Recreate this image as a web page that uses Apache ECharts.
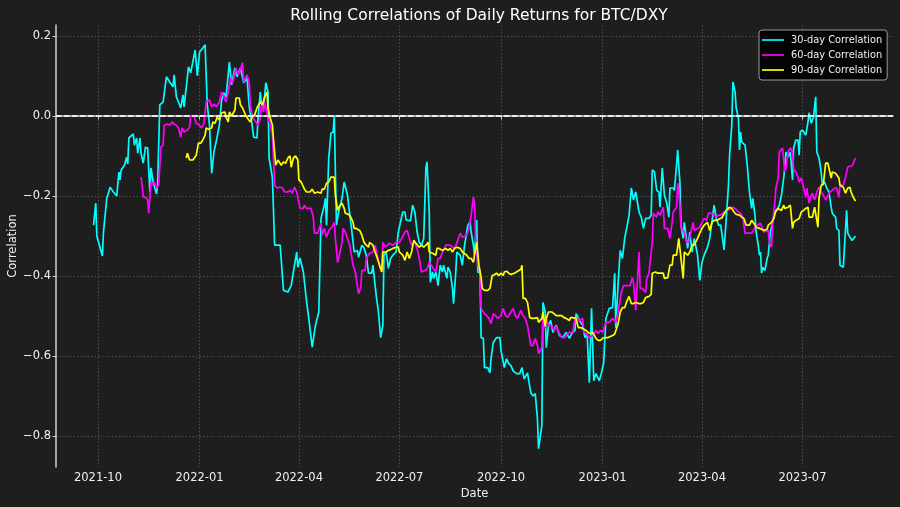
<!DOCTYPE html>
<html><head><meta charset="utf-8">
<script src="https://cdn.jsdelivr.net/npm/echarts@6/dist/echarts.min.js"></script>
<style>html,body{margin:0;padding:0;background:#1e1e1e}#c{width:900px;height:507px}</style>
</head><body><div id="c"></div><script>
// ---- DATA ----
const titleText = 'Rolling Correlations of Daily Returns for BTC/DXY';
const seriesNames = ['30-day Correlation', '60-day Correlation', '90-day Correlation'];
const xTickLabels = ['2021-10','2022-01','2022-04','2022-07','2022-10','2023-01','2023-04','2023-07'];
const yTickValues = [-0.8, -0.6, -0.4, -0.2, 0.0, 0.2];

const dates30 = ['2021-09-27','2021-09-29','2021-09-30','2021-10-05','2021-10-06','2021-10-09','2021-10-12','2021-10-15','2021-10-18','2021-10-20','2021-10-21','2021-10-22','2021-10-25','2021-10-27','2021-10-28','2021-10-29','2021-11-02','2021-11-03','2021-11-05','2021-11-06','2021-11-08','2021-11-09','2021-11-11','2021-11-13','2021-11-15','2021-11-17','2021-11-18','2021-11-20','2021-11-23','2021-11-24','2021-11-26','2021-11-29','2021-12-02','2021-12-05','2021-12-08','2021-12-09','2021-12-11','2021-12-15','2021-12-17','2021-12-18','2021-12-21','2021-12-22','2021-12-24','2021-12-28','2021-12-30','2022-01-01','2022-01-04','2022-01-06','2022-01-08','2022-01-10','2022-01-12','2022-01-14','2022-01-16','2022-01-19','2022-01-21','2022-01-23','2022-01-25','2022-01-28','2022-01-30','2022-02-02','2022-02-04','2022-02-07','2022-02-10','2022-02-13','2022-02-15','2022-02-17','2022-02-19','2022-02-22','2022-02-23','2022-02-25','2022-02-26','2022-02-28','2022-03-02','2022-03-04','2022-03-05','2022-03-08','2022-03-10','2022-03-15','2022-03-18','2022-03-22','2022-03-25','2022-03-28','2022-03-30','2022-03-31','2022-04-02','2022-04-05','2022-04-06','2022-04-08','2022-04-10','2022-04-13','2022-04-14','2022-04-16','2022-04-19','2022-04-21','2022-04-24','2022-04-25','2022-04-26','2022-04-28','2022-04-30','2022-05-02','2022-05-03','2022-05-05','2022-05-07','2022-05-10','2022-05-12','2022-05-15','2022-05-16','2022-05-19','2022-05-21','2022-05-24','2022-05-25','2022-05-28','2022-05-30','2022-06-01','2022-06-03','2022-06-06','2022-06-07','2022-06-10','2022-06-12','2022-06-14','2022-06-16','2022-06-17','2022-06-19','2022-06-21','2022-06-23','2022-06-25','2022-06-28','2022-06-30','2022-07-01','2022-07-04','2022-07-06','2022-07-07','2022-07-11','2022-07-13','2022-07-15','2022-07-17','2022-07-19','2022-07-21','2022-07-23','2022-07-25','2022-07-26','2022-07-28','2022-07-29','2022-07-31','2022-08-01','2022-08-03','2022-08-05','2022-08-07','2022-08-09','2022-08-10','2022-08-13','2022-08-14','2022-08-16','2022-08-18','2022-08-19','2022-08-21','2022-08-22','2022-08-25','2022-08-27','2022-08-29','2022-09-01','2022-09-03','2022-09-04','2022-09-06','2022-09-07','2022-09-09','2022-09-10','2022-09-12','2022-09-13','2022-09-15','2022-09-16','2022-09-19','2022-09-21','2022-09-22','2022-09-24','2022-09-27','2022-09-30','2022-10-01','2022-10-04','2022-10-06','2022-10-08','2022-10-10','2022-10-12','2022-10-15','2022-10-18','2022-10-20','2022-10-22','2022-10-25','2022-10-28','2022-10-30','2022-11-01','2022-11-03','2022-11-04','2022-11-07','2022-11-08','2022-11-10','2022-11-11','2022-11-13','2022-11-15','2022-11-17','2022-11-20','2022-11-23','2022-11-26','2022-11-29','2022-12-02','2022-12-04','2022-12-07','2022-12-08','2022-12-11','2022-12-14','2022-12-16','2022-12-18','2022-12-20','2022-12-22','2022-12-24','2022-12-26','2022-12-29','2022-12-31','2023-01-02','2023-01-04','2023-01-07','2023-01-10','2023-01-12','2023-01-13','2023-01-15','2023-01-17','2023-01-19','2023-01-21','2023-01-23','2023-01-25','2023-01-27','2023-01-29','2023-01-31','2023-02-03','2023-02-05','2023-02-07','2023-02-09','2023-02-12','2023-02-14','2023-02-15','2023-02-17','2023-02-19','2023-02-21','2023-02-22','2023-02-24','2023-02-26','2023-02-28','2023-03-02','2023-03-03','2023-03-06','2023-03-07','2023-03-09','2023-03-10','2023-03-12','2023-03-13','2023-03-15','2023-03-16','2023-03-19','2023-03-21','2023-03-23','2023-03-25','2023-03-28','2023-03-30','2023-04-01','2023-04-03','2023-04-06','2023-04-08','2023-04-10','2023-04-12','2023-04-14','2023-04-16','2023-04-18','2023-04-21','2023-04-23','2023-04-25','2023-04-26','2023-04-28','2023-04-29','2023-05-01','2023-05-02','2023-05-04','2023-05-05','2023-05-06','2023-05-07','2023-05-10','2023-05-12','2023-05-14','2023-05-16','2023-05-17','2023-05-19','2023-05-20','2023-05-22','2023-05-23','2023-05-24','2023-05-25','2023-05-26','2023-05-28','2023-05-30','2023-05-31','2023-06-02','2023-06-04','2023-06-06','2023-06-08','2023-06-10','2023-06-12','2023-06-14','2023-06-15','2023-06-16','2023-06-18','2023-06-20','2023-06-22','2023-06-23','2023-06-25','2023-06-27','2023-06-28','2023-06-29','2023-07-01','2023-07-04','2023-07-06','2023-07-07','2023-07-09','2023-07-11','2023-07-13','2023-07-14','2023-07-16','2023-07-18','2023-07-19','2023-07-21','2023-07-23','2023-07-25','2023-07-27','2023-07-28','2023-07-31','2023-08-01','2023-08-03','2023-08-04','2023-08-07','2023-08-08','2023-08-10','2023-08-11','2023-08-13','2023-08-15','2023-08-18'];
const corr30 = [-0.273,-0.218,-0.30,-0.35,-0.29,-0.206,-0.178,-0.19,-0.20,-0.14,-0.16,-0.135,-0.123,-0.103,-0.12,-0.055,-0.045,-0.073,-0.055,-0.093,-0.055,-0.093,-0.118,-0.078,-0.08,-0.19,-0.13,-0.165,-0.195,-0.173,0.028,0.035,0.098,0.085,0.073,0.103,0.048,0.02,0.053,0.023,0.098,0.123,0.108,0.165,0.10,0.16,0.17,0.178,0.028,-0.023,-0.143,-0.09,-0.065,-0.023,0.04,0.058,0.048,0.135,0.078,0.12,0.098,0.12,0.083,0.095,0.023,-0.01,-0.053,-0.055,-0.005,0.06,0.033,0.02,0.083,0.06,-0.105,-0.155,-0.323,-0.323,-0.436,-0.44,-0.424,-0.373,-0.34,-0.378,-0.355,-0.39,-0.415,-0.466,-0.507,-0.578,-0.58,-0.523,-0.49,-0.256,-0.223,-0.206,-0.273,-0.105,-0.043,-0.04,0.0,-0.273,-0.24,-0.206,-0.165,-0.198,-0.223,-0.29,-0.34,-0.336,-0.353,-0.323,-0.33,-0.348,-0.393,-0.393,-0.373,-0.449,-0.49,-0.554,-0.523,-0.348,-0.34,-0.381,-0.356,-0.348,-0.34,-0.29,-0.293,-0.24,-0.24,-0.26,-0.262,-0.223,-0.24,-0.29,-0.316,-0.323,-0.306,-0.13,-0.115,-0.24,-0.416,-0.39,-0.406,-0.39,-0.424,-0.373,-0.39,-0.373,-0.406,-0.378,-0.39,-0.43,-0.469,-0.393,-0.34,-0.348,-0.373,-0.323,-0.273,-0.265,-0.29,-0.323,-0.348,-0.26,-0.39,-0.393,-0.554,-0.556,-0.629,-0.629,-0.642,-0.607,-0.566,-0.554,-0.554,-0.586,-0.629,-0.607,-0.619,-0.624,-0.637,-0.644,-0.644,-0.629,-0.657,-0.642,-0.692,-0.70,-0.694,-0.757,-0.832,-0.774,-0.466,-0.49,-0.579,-0.523,-0.511,-0.541,-0.523,-0.549,-0.554,-0.541,-0.556,-0.544,-0.536,-0.494,-0.511,-0.523,-0.554,-0.544,-0.667,-0.481,-0.662,-0.644,-0.662,-0.642,-0.617,-0.506,-0.481,-0.479,-0.393,-0.53,-0.42,-0.336,-0.356,-0.306,-0.278,-0.248,-0.18,-0.21,-0.19,-0.24,-0.253,-0.281,-0.256,-0.256,-0.248,-0.135,-0.14,-0.186,-0.19,-0.228,-0.13,-0.198,-0.216,-0.253,-0.18,-0.18,-0.186,-0.123,-0.085,-0.165,-0.273,-0.306,-0.266,-0.331,-0.29,-0.34,-0.306,-0.348,-0.411,-0.366,-0.348,-0.328,-0.306,-0.266,-0.223,-0.256,-0.273,-0.273,-0.335,-0.256,-0.173,-0.098,-0.023,0.085,0.06,0.02,-0.005,-0.085,-0.04,-0.065,-0.073,-0.123,-0.19,-0.231,-0.206,-0.248,-0.29,-0.323,-0.348,-0.34,-0.393,-0.378,-0.386,-0.356,-0.348,-0.29,-0.266,-0.24,-0.236,-0.223,-0.198,-0.155,-0.13,-0.09,-0.103,-0.09,-0.16,-0.08,-0.06,-0.06,-0.098,-0.04,-0.035,-0.048,-0.015,0.008,-0.018,-0.003,0.048,-0.09,-0.105,-0.14,-0.173,-0.165,-0.18,-0.19,-0.228,-0.243,-0.253,-0.281,-0.286,-0.373,-0.378,-0.381,-0.236,-0.293,-0.303,-0.311,-0.30];

const dates60 = ['2021-11-09','2021-11-10','2021-11-11','2021-11-13','2021-11-15','2021-11-16','2021-11-17','2021-11-18','2021-11-20','2021-11-21','2021-11-23','2021-11-25','2021-11-27','2021-11-29','2021-11-30','2021-12-03','2021-12-05','2021-12-07','2021-12-09','2021-12-11','2021-12-13','2021-12-15','2021-12-16','2021-12-18','2021-12-21','2021-12-23','2021-12-24','2021-12-27','2021-12-29','2021-12-30','2022-01-01','2022-01-03','2022-01-05','2022-01-07','2022-01-10','2022-01-12','2022-01-14','2022-01-16','2022-01-19','2022-01-21','2022-01-23','2022-01-25','2022-01-27','2022-01-29','2022-01-31','2022-02-03','2022-02-05','2022-02-06','2022-02-09','2022-02-10','2022-02-13','2022-02-15','2022-02-16','2022-02-18','2022-02-21','2022-02-23','2022-02-25','2022-02-26','2022-02-28','2022-03-01','2022-03-04','2022-03-06','2022-03-08','2022-03-10','2022-03-12','2022-03-15','2022-03-17','2022-03-19','2022-03-22','2022-03-24','2022-03-26','2022-03-28','2022-03-30','2022-04-02','2022-04-05','2022-04-06','2022-04-08','2022-04-12','2022-04-14','2022-04-15','2022-04-18','2022-04-21','2022-04-22','2022-04-24','2022-04-26','2022-04-28','2022-05-01','2022-05-03','2022-05-04','2022-05-06','2022-05-07','2022-05-10','2022-05-11','2022-05-13','2022-05-15','2022-05-17','2022-05-20','2022-05-22','2022-05-23','2022-05-25','2022-05-27','2022-05-28','2022-05-31','2022-06-01','2022-06-04','2022-06-07','2022-06-09','2022-06-11','2022-06-13','2022-06-15','2022-06-16','2022-06-18','2022-06-20','2022-06-22','2022-06-25','2022-06-28','2022-07-01','2022-07-03','2022-07-06','2022-07-08','2022-07-10','2022-07-12','2022-07-15','2022-07-17','2022-07-19','2022-07-21','2022-07-24','2022-07-26','2022-07-28','2022-07-30','2022-08-01','2022-08-03','2022-08-05','2022-08-07','2022-08-09','2022-08-12','2022-08-13','2022-08-16','2022-08-18','2022-08-20','2022-08-22','2022-08-25','2022-08-27','2022-08-28','2022-08-31','2022-09-02','2022-09-04','2022-09-06','2022-09-07','2022-09-08','2022-09-10','2022-09-12','2022-09-13','2022-09-16','2022-09-18','2022-09-20','2022-09-22','2022-09-24','2022-09-26','2022-09-28','2022-10-01','2022-10-03','2022-10-05','2022-10-07','2022-10-10','2022-10-12','2022-10-14','2022-10-16','2022-10-19','2022-10-21','2022-10-23','2022-10-25','2022-10-28','2022-10-30','2022-11-01','2022-11-03','2022-11-04','2022-11-07','2022-11-08','2022-11-10','2022-11-11','2022-11-13','2022-11-16','2022-11-18','2022-11-20','2022-11-23','2022-11-25','2022-11-28','2022-11-30','2022-12-02','2022-12-05','2022-12-07','2022-12-09','2022-12-11','2022-12-14','2022-12-15','2022-12-17','2022-12-20','2022-12-23','2022-12-26','2022-12-28','2022-12-30','2023-01-01','2023-01-04','2023-01-07','2023-01-10','2023-01-13','2023-01-15','2023-01-18','2023-01-20','2023-01-23','2023-01-26','2023-01-28','2023-01-29','2023-01-31','2023-02-03','2023-02-04','2023-02-06','2023-02-09','2023-02-10','2023-02-12','2023-02-13','2023-02-15','2023-02-16','2023-02-19','2023-02-20','2023-02-22','2023-02-25','2023-02-26','2023-03-01','2023-03-03','2023-03-05','2023-03-06','2023-03-09','2023-03-10','2023-03-12','2023-03-13','2023-03-16','2023-03-18','2023-03-20','2023-03-22','2023-03-24','2023-03-25','2023-03-28','2023-03-30','2023-04-01','2023-04-03','2023-04-05','2023-04-07','2023-04-09','2023-04-12','2023-04-14','2023-04-16','2023-04-18','2023-04-21','2023-04-22','2023-04-24','2023-04-27','2023-04-29','2023-05-01','2023-05-04','2023-05-06','2023-05-08','2023-05-09','2023-05-10','2023-05-12','2023-05-15','2023-05-17','2023-05-19','2023-05-21','2023-05-22','2023-05-24','2023-05-25','2023-05-27','2023-05-28','2023-05-31','2023-06-01','2023-06-03','2023-06-04','2023-06-06','2023-06-07','2023-06-09','2023-06-10','2023-06-13','2023-06-14','2023-06-15','2023-06-16','2023-06-18','2023-06-20','2023-06-22','2023-06-23','2023-06-25','2023-06-27','2023-06-28','2023-06-30','2023-07-02','2023-07-04','2023-07-05','2023-07-07','2023-07-08','2023-07-10','2023-07-12','2023-07-14','2023-07-16','2023-07-18','2023-07-20','2023-07-22','2023-07-24','2023-07-25','2023-07-28','2023-07-30','2023-08-01','2023-08-03','2023-08-04','2023-08-07','2023-08-09','2023-08-11','2023-08-13','2023-08-15','2023-08-16','2023-08-18'];
const corr60 = [-0.153,-0.173,-0.203,-0.203,-0.21,-0.243,-0.24,-0.165,-0.173,-0.165,-0.18,-0.173,-0.078,-0.073,-0.023,-0.02,-0.023,-0.015,-0.02,-0.023,-0.03,-0.053,-0.03,-0.04,-0.035,-0.028,0.0,0.0,-0.018,-0.023,-0.023,-0.03,-0.018,0.035,0.04,0.023,0.03,0.023,0.035,0.06,0.048,0.035,0.06,0.095,0.083,0.12,0.103,0.11,0.133,0.085,0.103,0.083,0.028,-0.003,-0.015,-0.023,-0.005,0.028,0.01,0.035,-0.005,-0.023,-0.048,-0.173,-0.18,-0.178,-0.18,-0.19,-0.19,-0.186,-0.193,-0.178,-0.19,-0.231,-0.231,-0.223,-0.231,-0.231,-0.253,-0.293,-0.293,-0.268,-0.298,-0.281,-0.303,-0.286,-0.278,-0.266,-0.306,-0.366,-0.356,-0.316,-0.281,-0.29,-0.306,-0.323,-0.373,-0.39,-0.39,-0.444,-0.428,-0.386,-0.386,-0.356,-0.343,-0.34,-0.323,-0.348,-0.373,-0.39,-0.316,-0.328,-0.323,-0.318,-0.323,-0.316,-0.316,-0.306,-0.29,-0.286,-0.306,-0.323,-0.316,-0.331,-0.356,-0.39,-0.386,-0.383,-0.366,-0.373,-0.383,-0.39,-0.356,-0.356,-0.34,-0.323,-0.328,-0.323,-0.328,-0.331,-0.318,-0.293,-0.303,-0.306,-0.298,-0.281,-0.248,-0.203,-0.218,-0.306,-0.373,-0.386,-0.481,-0.494,-0.499,-0.506,-0.519,-0.494,-0.499,-0.506,-0.499,-0.481,-0.499,-0.503,-0.49,-0.481,-0.499,-0.506,-0.486,-0.499,-0.506,-0.524,-0.574,-0.574,-0.556,-0.574,-0.594,-0.579,-0.506,-0.531,-0.506,-0.524,-0.526,-0.536,-0.526,-0.544,-0.554,-0.554,-0.544,-0.541,-0.541,-0.506,-0.506,-0.511,-0.506,-0.541,-0.544,-0.554,-0.549,-0.536,-0.544,-0.536,-0.541,-0.516,-0.516,-0.506,-0.516,-0.49,-0.441,-0.424,-0.424,-0.424,-0.404,-0.416,-0.486,-0.34,-0.431,-0.431,-0.441,-0.406,-0.393,-0.366,-0.316,-0.243,-0.253,-0.24,-0.248,-0.228,-0.281,-0.281,-0.306,-0.266,-0.24,-0.228,-0.168,-0.223,-0.278,-0.291,-0.316,-0.316,-0.291,-0.266,-0.286,-0.281,-0.278,-0.266,-0.256,-0.261,-0.243,-0.243,-0.248,-0.253,-0.248,-0.248,-0.24,-0.24,-0.236,-0.231,-0.228,-0.231,-0.24,-0.243,-0.253,-0.256,-0.293,-0.293,-0.293,-0.29,-0.278,-0.273,-0.278,-0.268,-0.268,-0.29,-0.286,-0.286,-0.316,-0.328,-0.266,-0.216,-0.18,-0.155,-0.09,-0.08,-0.078,-0.14,-0.133,-0.09,-0.08,-0.09,-0.133,-0.14,-0.153,-0.165,-0.155,-0.178,-0.203,-0.18,-0.218,-0.206,-0.193,-0.21,-0.19,-0.178,-0.19,-0.198,-0.21,-0.2,-0.193,-0.186,-0.18,-0.18,-0.203,-0.173,-0.173,-0.153,-0.128,-0.125,-0.125,-0.13,-0.105];

const dates90 = ['2021-12-20','2021-12-21','2021-12-23','2021-12-26','2021-12-27','2021-12-29','2021-12-31','2022-01-02','2022-01-04','2022-01-06','2022-01-07','2022-01-09','2022-01-12','2022-01-13','2022-01-15','2022-01-17','2022-01-19','2022-01-21','2022-01-24','2022-01-25','2022-01-27','2022-01-28','2022-01-30','2022-02-02','2022-02-03','2022-02-06','2022-02-07','2022-02-09','2022-02-12','2022-02-13','2022-02-16','2022-02-18','2022-02-20','2022-02-22','2022-02-25','2022-02-27','2022-03-01','2022-03-03','2022-03-04','2022-03-06','2022-03-08','2022-03-09','2022-03-11','2022-03-13','2022-03-16','2022-03-18','2022-03-20','2022-03-22','2022-03-24','2022-03-25','2022-03-27','2022-03-29','2022-03-31','2022-04-01','2022-04-03','2022-04-06','2022-04-08','2022-04-11','2022-04-13','2022-04-15','2022-04-18','2022-04-21','2022-04-22','2022-04-24','2022-04-26','2022-04-28','2022-04-30','2022-05-03','2022-05-04','2022-05-06','2022-05-07','2022-05-10','2022-05-12','2022-05-13','2022-05-16','2022-05-18','2022-05-20','2022-05-21','2022-05-23','2022-05-26','2022-05-28','2022-05-30','2022-06-01','2022-06-03','2022-06-04','2022-06-07','2022-06-09','2022-06-11','2022-06-13','2022-06-15','2022-06-16','2022-06-19','2022-06-21','2022-06-23','2022-06-25','2022-06-28','2022-06-30','2022-07-01','2022-07-04','2022-07-06','2022-07-08','2022-07-10','2022-07-12','2022-07-14','2022-07-16','2022-07-19','2022-07-21','2022-07-23','2022-07-25','2022-07-27','2022-07-28','2022-07-31','2022-08-03','2022-08-04','2022-08-06','2022-08-09','2022-08-10','2022-08-12','2022-08-14','2022-08-16','2022-08-18','2022-08-20','2022-08-22','2022-08-25','2022-08-27','2022-08-28','2022-08-31','2022-09-02','2022-09-04','2022-09-06','2022-09-07','2022-09-09','2022-09-11','2022-09-13','2022-09-14','2022-09-16','2022-09-19','2022-09-21','2022-09-23','2022-09-25','2022-09-27','2022-09-29','2022-10-01','2022-10-03','2022-10-04','2022-10-06','2022-10-08','2022-10-10','2022-10-13','2022-10-15','2022-10-16','2022-10-19','2022-10-20','2022-10-21','2022-10-23','2022-10-25','2022-10-27','2022-10-29','2022-10-31','2022-11-03','2022-11-04','2022-11-07','2022-11-08','2022-11-10','2022-11-11','2022-11-13','2022-11-16','2022-11-18','2022-11-20','2022-11-23','2022-11-25','2022-11-27','2022-11-29','2022-12-02','2022-12-03','2022-12-05','2022-12-08','2022-12-10','2022-12-12','2022-12-14','2022-12-17','2022-12-19','2022-12-21','2022-12-23','2022-12-26','2022-12-28','2022-12-30','2023-01-01','2023-01-04','2023-01-06','2023-01-07','2023-01-10','2023-01-12','2023-01-13','2023-01-15','2023-01-17','2023-01-19','2023-01-21','2023-01-23','2023-01-25','2023-01-27','2023-01-29','2023-01-31','2023-02-03','2023-02-05','2023-02-07','2023-02-09','2023-02-12','2023-02-14','2023-02-15','2023-02-18','2023-02-20','2023-02-22','2023-02-25','2023-02-26','2023-03-01','2023-03-03','2023-03-05','2023-03-06','2023-03-09','2023-03-11','2023-03-13','2023-03-15','2023-03-16','2023-03-19','2023-03-21','2023-03-23','2023-03-25','2023-03-28','2023-03-30','2023-04-01','2023-04-03','2023-04-06','2023-04-08','2023-04-10','2023-04-12','2023-04-15','2023-04-17','2023-04-19','2023-04-21','2023-04-23','2023-04-26','2023-04-28','2023-04-30','2023-05-02','2023-05-05','2023-05-07','2023-05-09','2023-05-11','2023-05-14','2023-05-16','2023-05-18','2023-05-20','2023-05-23','2023-05-25','2023-05-27','2023-05-30','2023-05-31','2023-06-03','2023-06-05','2023-06-07','2023-06-09','2023-06-12','2023-06-14','2023-06-15','2023-06-18','2023-06-20','2023-06-22','2023-06-23','2023-06-25','2023-06-28','2023-06-30','2023-07-02','2023-07-04','2023-07-06','2023-07-07','2023-07-10','2023-07-12','2023-07-13','2023-07-15','2023-07-16','2023-07-18','2023-07-20','2023-07-22','2023-07-24','2023-07-25','2023-07-27','2023-07-28','2023-07-31','2023-08-01','2023-08-03','2023-08-04','2023-08-07','2023-08-09','2023-08-11','2023-08-13','2023-08-14','2023-08-16','2023-08-18'];
const corr90 = [-0.105,-0.093,-0.11,-0.11,-0.115,-0.098,-0.068,-0.068,-0.06,-0.048,-0.03,-0.033,-0.03,-0.015,-0.018,-0.003,-0.01,0.008,0.01,-0.003,-0.015,0.01,0.0,0.015,0.045,0.045,0.028,0.02,0.0,0.003,-0.015,0.0,0.003,0.02,0.035,0.028,0.048,0.06,0.02,-0.005,-0.023,-0.06,-0.123,-0.11,-0.123,-0.115,-0.118,-0.105,-0.10,-0.128,-0.105,-0.10,-0.11,-0.16,-0.165,-0.183,-0.19,-0.19,-0.183,-0.193,-0.19,-0.193,-0.183,-0.183,-0.168,-0.165,-0.153,-0.153,-0.198,-0.236,-0.228,-0.218,-0.231,-0.243,-0.246,-0.253,-0.266,-0.281,-0.281,-0.286,-0.298,-0.316,-0.323,-0.328,-0.316,-0.323,-0.34,-0.356,-0.373,-0.39,-0.34,-0.34,-0.336,-0.334,-0.331,-0.328,-0.328,-0.34,-0.348,-0.361,-0.34,-0.356,-0.34,-0.311,-0.318,-0.328,-0.323,-0.328,-0.323,-0.316,-0.34,-0.343,-0.348,-0.331,-0.331,-0.336,-0.34,-0.331,-0.336,-0.331,-0.34,-0.331,-0.328,-0.331,-0.34,-0.343,-0.348,-0.356,-0.356,-0.366,-0.348,-0.316,-0.373,-0.404,-0.431,-0.436,-0.436,-0.431,-0.399,-0.397,-0.393,-0.399,-0.393,-0.399,-0.39,-0.388,-0.393,-0.396,-0.393,-0.39,-0.386,-0.383,-0.373,-0.456,-0.456,-0.466,-0.504,-0.506,-0.506,-0.504,-0.516,-0.506,-0.49,-0.526,-0.506,-0.49,-0.49,-0.494,-0.499,-0.499,-0.499,-0.504,-0.506,-0.511,-0.504,-0.504,-0.506,-0.529,-0.529,-0.531,-0.536,-0.541,-0.544,-0.541,-0.556,-0.561,-0.561,-0.556,-0.554,-0.554,-0.549,-0.549,-0.545,-0.544,-0.52,-0.49,-0.479,-0.479,-0.463,-0.451,-0.469,-0.469,-0.466,-0.469,-0.469,-0.466,-0.454,-0.451,-0.446,-0.393,-0.39,-0.393,-0.393,-0.393,-0.406,-0.404,-0.373,-0.373,-0.348,-0.348,-0.306,-0.356,-0.406,-0.34,-0.348,-0.34,-0.323,-0.323,-0.306,-0.293,-0.281,-0.273,-0.266,-0.286,-0.266,-0.261,-0.261,-0.257,-0.255,-0.245,-0.236,-0.228,-0.231,-0.24,-0.246,-0.248,-0.253,-0.256,-0.273,-0.273,-0.261,-0.268,-0.278,-0.281,-0.283,-0.286,-0.283,-0.273,-0.266,-0.256,-0.236,-0.231,-0.236,-0.223,-0.231,-0.228,-0.223,-0.281,-0.266,-0.261,-0.256,-0.24,-0.236,-0.231,-0.228,-0.253,-0.253,-0.228,-0.231,-0.278,-0.206,-0.173,-0.17,-0.118,-0.118,-0.12,-0.155,-0.14,-0.143,-0.14,-0.155,-0.173,-0.178,-0.193,-0.18,-0.178,-0.19,-0.203,-0.213];

// ---- CHART ----
const ts = s => +echarts.time.parse(s);
const pair = (d, v) => d.map((x, i) => [ts(x), v[i]]);
const font = 'DejaVu Sans, Verdana, sans-serif';
const chart = echarts.init(document.getElementById('c'), null, {renderer: 'canvas'});
const xTicks = xTickLabels.map(s => ts(s + '-01'));
const lineSeries = (name, color, data, extra) => Object.assign({
  name, type: 'line', data, showSymbol: false, symbol: 'none',
  lineStyle: {color, width: 1.7}, itemStyle: {color}, animation: false, z: 3
}, extra || {});

chart.setOption({
  backgroundColor: '#1e1e1e',
  animation: false,
  title: {
    text: titleText, left: 474, top: 3, textAlign: 'center',
    textStyle: {color: '#ffffff', fontFamily: font, fontSize: 15.5, fontWeight: 'normal'}
  },
  legend: {
    orient: 'vertical', left: 759, top: 30,
    data: seriesNames,
    icon: 'path://M0,0H22V1.7H0Z',
    backgroundColor: 'rgba(0,0,0,0.85)', borderColor: '#9a9a9a', borderWidth: 1, borderRadius: 3,
    padding: [4, 5, 4, 3], itemGap: 3, itemWidth: 22, itemHeight: 12,
    textStyle: {color: '#f0f0f0', fontFamily: font, fontSize: 9.8, lineHeight: 12, padding: [0, 0, 0, 2]}
  },
  grid: {left: 56, right: 7, top: 25, bottom: 40, containLabel: false, outerBoundsMode: 'none'},
  xAxis: {
    type: 'value',
    min: ts('2021-08-24'), max: ts('2023-09-21'),
    name: 'Date', nameLocation: 'middle', nameGap: 21, nameMoveOverlap: false,
    nameTextStyle: {color: '#f0f0f0', fontFamily: font, fontSize: 11.5},
    axisLine: {show: true, lineStyle: {color: '#d0d0d0', width: 1.5}},
    axisTick: {show: true, length: 3.5, lineStyle: {color: '#d0d0d0'}, customValues: xTicks},
    axisLabel: {color: '#f0f0f0', fontFamily: font, fontSize: 11.5, margin: 5, customValues: xTicks,
      formatter: v => echarts.time.format(v, '{yyyy}-{MM}', false)},
    splitLine: {show: true, lineStyle: {color: '#5a5a5a', width: 0.8, type: [1.5, 2]}}
  },
  yAxis: {
    type: 'value', min: -0.8775, max: 0.2275,
    name: 'Correlation', nameLocation: 'middle', nameGap: 37, nameRotate: 90, nameMoveOverlap: false,
    nameTextStyle: {color: '#f0f0f0', fontFamily: font, fontSize: 11.5},
    axisLine: {show: true, lineStyle: {color: '#d0d0d0', width: 1.5}},
    axisTick: {show: true, length: 3.5, lineStyle: {color: '#d0d0d0'}, customValues: yTickValues},
    axisLabel: {color: '#f0f0f0', fontFamily: font, fontSize: 11.5, margin: 5, customValues: yTickValues,
      formatter: v => (v < -1e-9 ? '\u2212' : '') + Math.abs(v).toFixed(1)},
    splitLine: {show: true, lineStyle: {color: '#5a5a5a', width: 0.8, type: [1.5, 2]}}
  },
  series: [
    lineSeries(seriesNames[0], '#00ffff', pair(dates30, corr30), {
      markLine: {
        silent: true, symbol: ['none', 'none'], label: {show: false}, animation: false,
        lineStyle: {color: '#ffffff', width: 1.7, type: [5.5, 2.5]},
        data: [{yAxis: 0}]
      }
    }),
    lineSeries(seriesNames[1], '#ff00ff', pair(dates60, corr60)),
    lineSeries(seriesNames[2], '#ffff00', pair(dates90, corr90))
  ]
});
</script></body></html>
